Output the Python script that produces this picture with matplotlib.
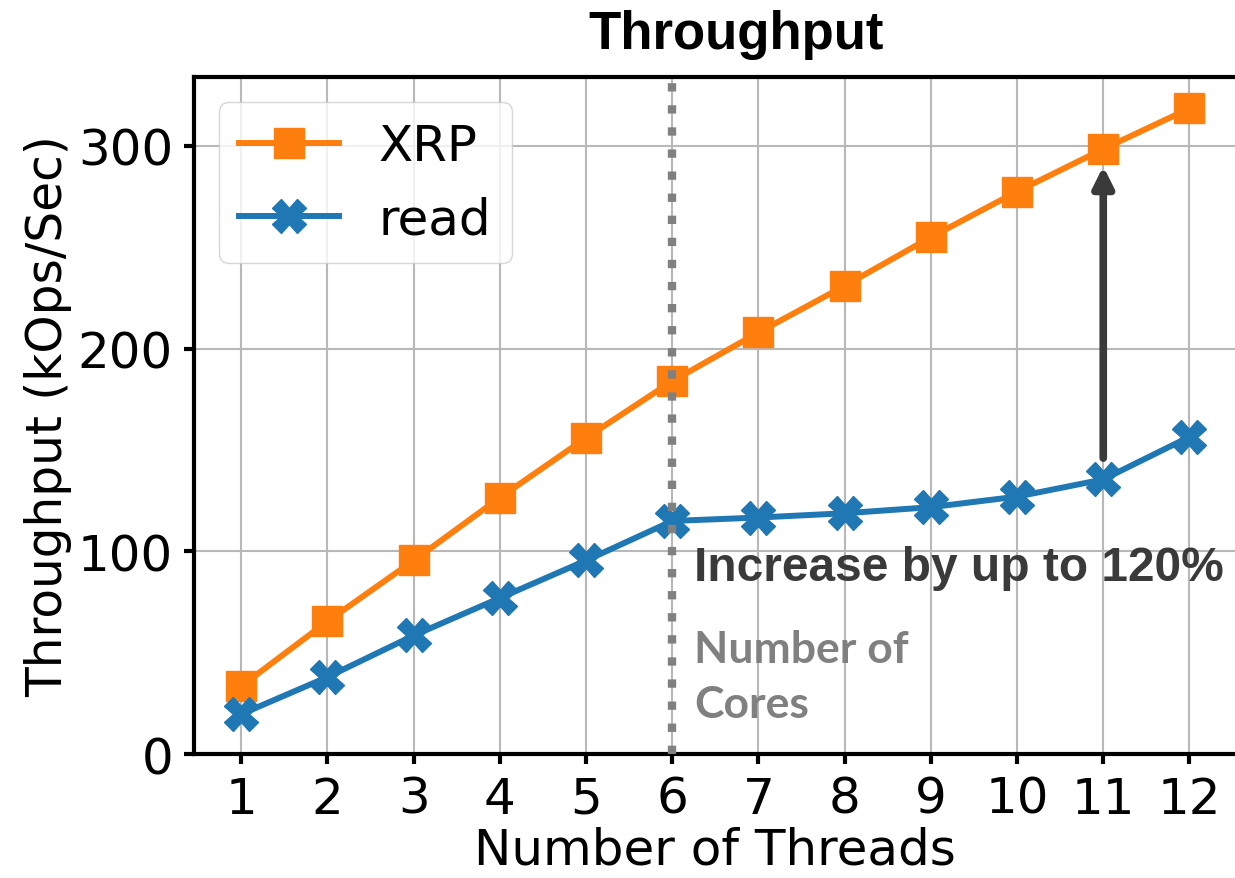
import matplotlib.pyplot as plt

threads = [1, 2, 3, 4, 5, 6, 7, 8, 9, 10, 11, 12]
xrp = [33.5, 65.5, 95.5, 126.5, 156, 184, 208, 231, 255, 277.5, 298.5, 318.5]
read = [19.7, 38, 58.5, 77, 95.5, 115, 116.7, 118.8, 121.8, 127, 135.5, 156.5]
y_ticks = [0, 100, 200, 300]

cores = 6
arrow_x = 11
arrow_from = 146
arrow_to = 290

fig = plt.figure(figsize=(12.35, 8.79), dpi=100)
ax = fig.add_axes([0.157, 0.141, 0.8445, 0.7702])

ax.plot(threads, xrp, color="#ff7f0e", marker="s", markersize=22, lw=4.3, label="XRP", zorder=3)
ax.plot(threads, read, color="#1f77b4", marker="X", markersize=24, lw=4.3, label="read", zorder=3)

ax.axvline(cores, color="gray", linestyle=":", lw=6, zorder=4)

ax.annotate("", xy=(arrow_x, arrow_to), xytext=(arrow_x, arrow_from),
            arrowprops=dict(arrowstyle="-|>", color="#3a3a3a", lw=5.5,
                            mutation_scale=30, shrinkA=0, shrinkB=0), zorder=2)

# annotations
ax.text(6.25, 85.7, "Increase by up to 120%", fontsize=34.5, fontweight="bold",
        family="Liberation Sans", color="#3a3a3a", va="baseline", ha="left")
ax.text(6.25, 45.3, "Number of", fontsize=32, fontweight="bold",
        family="Lato", color="#808080", va="baseline", ha="left")
ax.text(6.25, 18.2, "Cores", fontsize=32, fontweight="bold",
        family="Lato", color="#808080", va="baseline", ha="left")

ax.set_xlim(0.45, 12.55)
ax.set_ylim(0, 334)
ax.set_xticks(threads)
ax.set_yticks(y_ticks)
ax.tick_params(labelsize=36, length=7, width=3, pad=8)
ax.grid(True, color="#b8b8b8", lw=1.5)
ax.set_axisbelow(True)
for s in ax.spines.values():
    s.set_linewidth(3)

ax.set_xlabel("Number of Threads", fontsize=36, labelpad=2)
ax.set_ylabel("Throughput (kOps/Sec)", fontsize=35)
ax.set_title("Throughput", fontsize=38, fontweight="bold", family="Liberation Sans",
             x=0.52, pad=21)

ax.legend(loc="upper left", fontsize=36)

fig.savefig("out.png", dpi=100)
